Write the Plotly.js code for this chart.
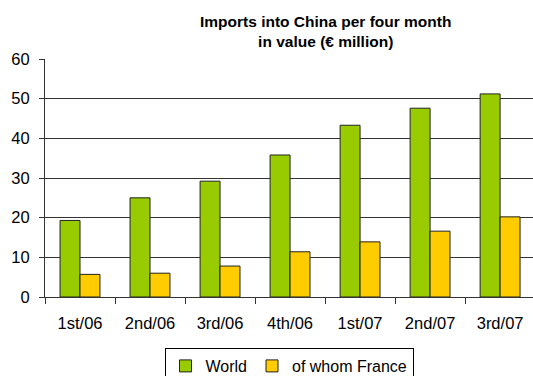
<!DOCTYPE html>
<html>
<head>
<meta charset="utf-8">
<script src="https://cdn.plot.ly/plotly-3.0.1.min.js"></script>
<style>
  html, body { margin: 0; padding: 0; background: #fff; }
  #chart { width: 533px; height: 376px; }
</style>
</head>
<body>
<div id="chart"></div>
<script>
// Four-month periods
const periods = ['1st/06', '2nd/06', '3rd/06', '4th/06', '1st/07', '2nd/07', '3rd/07'];
// Imports into China, € million
const worldValues = [19.3, 25.0, 29.2, 35.8, 43.3, 47.6, 51.2];
const franceValues = [5.7, 6.0, 7.8, 11.4, 13.9, 16.6, 20.2];
const yTicks = [0, 10, 20, 30, 40, 50, 60];
const chartTitle = '<b>Imports into China per four month<br>in value (€ million)</b>';

const FONT = '"Liberation Sans", Arial, sans-serif';
const EDGE = '#222';

const traces = [
  {
    type: 'bar', name: 'World', x: periods, y: worldValues,
    marker: { color: '#99CC00', line: { color: EDGE, width: 1 } }
  },
  {
    type: 'bar', name: 'of whom France', x: periods, y: franceValues,
    marker: { color: '#FFCC00', line: { color: EDGE, width: 1 } }
  }
];

const layout = {
  width: 533, height: 376,
  margin: { l: 45, r: 0, t: 59, b: 79, autoexpand: false },
  paper_bgcolor: '#fff', plot_bgcolor: '#fff',
  font: { family: FONT, size: 16.5, color: '#000' },
  barmode: 'group', bargap: 0.43, bargroupgap: 0,
  showlegend: true,
  annotations: [{
    text: chartTitle, showarrow: false,
    xref: 'paper', x: 0.574, xanchor: 'center',
    yref: 'paper', y: 1.2, yanchor: 'top',
    font: { family: FONT, size: 15.5, color: '#000' }
  }],
  xaxis: {
    type: 'category', range: [-0.5, 6.47],
    showgrid: false, zeroline: false,
    showline: true, linecolor: '#333', linewidth: 1,
    ticks: 'outside', tickson: 'boundaries', ticklen: 6, tickcolor: '#333',
    ticklabelstandoff: 11,
    tickfont: { family: FONT, size: 16.5, color: '#000' },
    fixedrange: true
  },
  yaxis: {
    range: [0, 60], tickvals: yTicks, ticktext: yTicks.map(String),
    showgrid: true, gridcolor: '#333', gridwidth: 1,
    zeroline: false,
    showline: true, linecolor: '#333', linewidth: 1,
    ticks: 'outside', ticklen: 5, tickcolor: '#333',
    ticklabelstandoff: 6,
    tickfont: { family: FONT, size: 16.5, color: '#000' },
    fixedrange: true
  },
  legend: {
    orientation: 'h',
    x: 0.5, xanchor: 'center',
    y: -0.2143, yanchor: 'top',
    bordercolor: '#000', borderwidth: 1,
    bgcolor: '#fff',
    font: { family: FONT, size: 16, color: '#000' },
    itemwidth: 30, tracegroupgap: 0
  }
};

Plotly.newPlot('chart', traces, layout, { displayModeBar: false, staticPlot: true });
</script>
</body>
</html>
